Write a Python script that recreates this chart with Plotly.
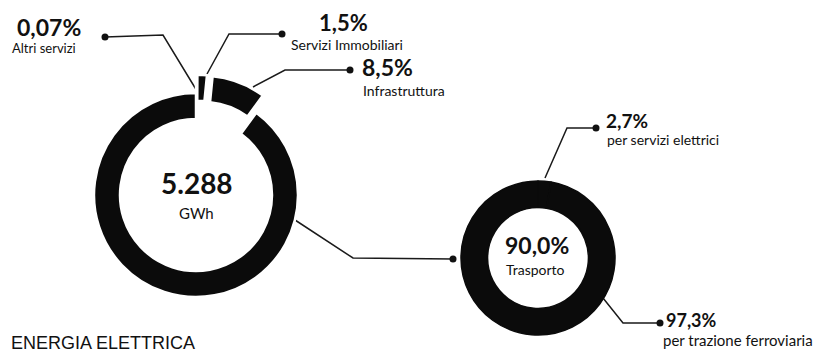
import plotly.graph_objects as go

# ---- data ----
main_labels = ["Altri servizi", "Servizi Immobiliari", "Infrastruttura", "Trasporto"]
main_values = [0.07, 1.5, 8.5, 90.0]
main_pct_text = ["0,07%", "1,5%", "8,5%", "90,0%"]
total_value = "5.288"
total_unit = "GWh"

sub_labels = ["per servizi elettrici", "per trazione ferroviaria"]
sub_values = [2.7, 97.3]
sub_pct_text = ["2,7%", "97,3%"]

title_text = "ENERGIA ELETTRICA"

# ---- layout constants (page pixel frame 821x356; page body has 8px margin) ----
PW, PH = 821, 356
OFF = 8
W, H = PW - OFF, PH - OFF
INK = "#111111"
FONT = "Lato"


def dom(cx, cy, half):
    x0, y0 = cx - OFF, cy - OFF
    return dict(x=[(x0 - half) / W, (x0 + half) / W],
                y=[1 - (y0 + half) / H, 1 - (y0 - half) / H])


BIG_C, BIG_R, PULL = (196, 195), 102, 0.18
SMALL_C, SMALL_R = (538, 258), 77

fig = go.Figure()

fig.add_trace(go.Pie(
    labels=main_labels, values=main_values, sort=False, direction="clockwise",
    rotation=0, hole=0.745, pull=[PULL, PULL, PULL, 0],
    marker=dict(colors=["#0b0b0b"] * 4, line=dict(color="white", width=2.5)),
    textinfo="none", hoverinfo="label+percent",
    domain=dom(BIG_C[0], BIG_C[1], BIG_R * (1 + PULL)),
    showlegend=False,
))

fig.add_trace(go.Pie(
    labels=sub_labels, values=sub_values, sort=False, direction="clockwise",
    rotation=0, hole=0.655,
    marker=dict(colors=["#0b0b0b"] * 2, line=dict(color="#0b0b0b", width=1.5)),
    textinfo="none", hoverinfo="label+percent",
    domain=dom(SMALL_C[0], SMALL_C[1], SMALL_R),
    showlegend=False,
))

# leader lines: polyline points, last point carries the dot
leaders = [
    [(197, 91), (163, 35), (105, 37)],
    [(207, 74), (229, 34), (282, 34)],
    [(253, 87), (285, 70), (350, 70)],
    [(295, 220), (353, 258), (453, 259)],
    [(545, 178), (567, 128), (596, 128)],
    [(603, 298), (623, 323), (660, 323)],
]
for pts in leaders:
    xs = [p[0] for p in pts]
    ys = [p[1] for p in pts]
    fig.add_trace(go.Scatter(x=xs, y=ys, mode="lines", line=dict(color="#1a1a1a", width=1.5),
                             hoverinfo="skip", showlegend=False))
    fig.add_trace(go.Scatter(x=[xs[-1]], y=[ys[-1]], mode="markers",
                             marker=dict(color="#111", size=7), hoverinfo="skip", showlegend=False))

ann = []


def txt(x, y, s, size, bold=False, anchor="left", family=FONT):
    ann.append(dict(x=x, y=y, xref="x", yref="y", text=f"<b>{s}</b>" if bold else s,
                    showarrow=False, xanchor=anchor, yanchor="middle",
                    font=dict(family=family, size=size, color=INK)))


txt(15, 27, main_pct_text[0], 23, True)
txt(10, 48, main_labels[0], 13)
txt(317, 22, main_pct_text[1], 22, True)
txt(289, 44, main_labels[1], 14)
txt(360, 67, main_pct_text[2], 23, True)
txt(361, 90, main_labels[2], 14)
txt(197, 183, total_value, 28, True, "center")
txt(196, 213, total_unit, 15, False, "center")
txt(537, 245, main_pct_text[3], 23, True, "center")
txt(535, 269, main_labels[3], 14, False, "center")
txt(604, 120, sub_pct_text[0], 19, True)
txt(605, 139, sub_labels[0], 14)
txt(664, 320, sub_pct_text[1], 18, True)
txt(661, 340, sub_labels[1], 15)
txt(9, 343, title_text, 18, False, "left", "Liberation Sans")

fig.update_layout(
    width=W, height=H, margin=dict(l=0, r=0, t=0, b=0),
    paper_bgcolor="white", plot_bgcolor="white",
    xaxis=dict(range=[OFF, PW], visible=False, fixedrange=True),
    yaxis=dict(range=[PH, OFF], visible=False, fixedrange=True),
    annotations=ann, showlegend=False,
)

fig.write_html("out.html")
